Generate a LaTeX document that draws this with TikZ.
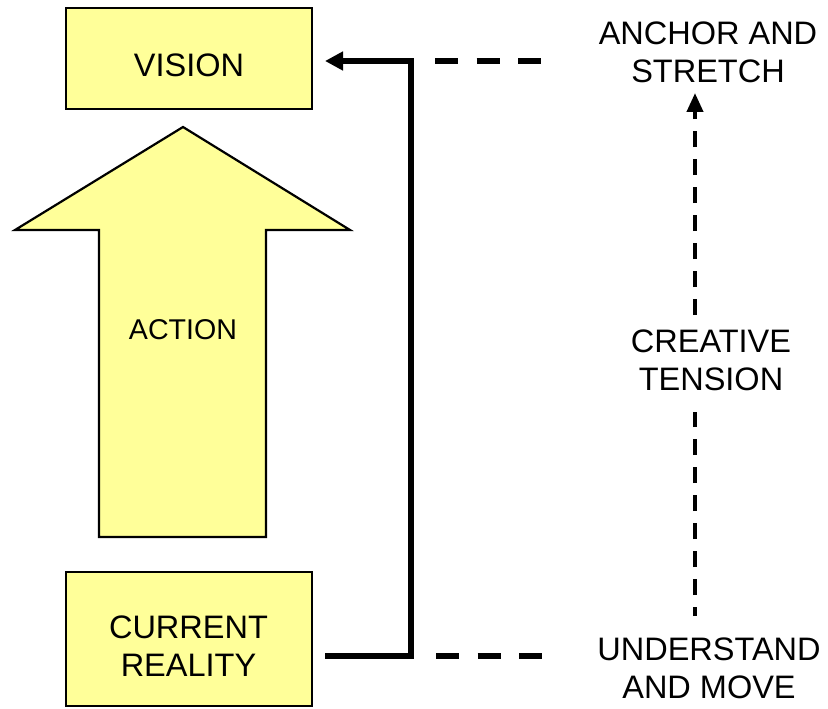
\documentclass[tikz,border=0pt]{standalone}
\usepackage{fontspec}
\setmainfont{Liberation Sans}
\usetikzlibrary{arrows.meta}
\definecolor{boxyellow}{HTML}{FFFF99}
\begin{document}
\begin{tikzpicture}[x=1pt,y=-1pt,
  box/.style={draw=black, line width=2.2pt, fill=boxyellow, inner sep=0pt},
  lbl/.style={font=\fontsize{32.5}{38}\selectfont, align=center, inner sep=0pt},
  small/.style={font=\fontsize{28.6}{33}\selectfont, align=center, inner sep=0pt},
  conn/.style={line width=5.5pt, line join=miter},
  hdash/.style={line width=6pt, dash pattern=on 23pt off 18.5pt},
  vdash/.style={line width=4pt, dash pattern=on 16pt off 12pt}]
\useasboundingbox (0,0) rectangle (828,709);
% boxes
\node[box, minimum width=246pt, minimum height=101pt] (vision) at (189,58.5) {};
\node[box, minimum width=246pt, minimum height=134pt] (current) at (189,639) {};
\node[lbl] (visiontxt) at (189,65.3) {VISION};
\node[lbl] (currenttxt) at (188.5,646.3) {CURRENT\\REALITY};
% big arrow
\draw[line width=2.2pt, line join=miter, fill=boxyellow]
  (183,127) -- (350,230) -- (266,230) -- (266,537) -- (99,537) -- (99,230) -- (15,230) -- cycle;
\node[small] (action) at (183,329.8) {ACTION};
% right labels
\node[lbl] (anchor) at (708,52.8) {ANCHOR AND\\STRETCH};
\node[lbl] (tension) at (711,360.8) {CREATIVE\\TENSION};
\node[lbl] (understand) at (709,668.3) {UNDERSTAND\\AND MOVE};
% connector
\coordinate (crout) at (325,656);
\coordinate (b1) at (411,656);
\coordinate (b2) at (411,61);
\coordinate (visin) at (325,61);
\draw[conn, -{Triangle[length=18pt,width=18pt]}] (crout) -- (b1) -- (b2) -- (visin);
% horizontal dashes
\coordinate (d1a) at (435,61);
\coordinate (d1b) at (541,61);
\coordinate (d2a) at (436,656);
\coordinate (d2b) at (544,656);
\draw[hdash] (d1a) -- (d1b);
\draw[hdash] (d2a) -- (d2b);
% vertical dashed
\coordinate (v1) at (695,616);
\coordinate (v2) at (695,412);
\coordinate (v3) at (695,315);
\coordinate (v4) at (695,93);
\draw[vdash, dash phase=7pt] (v1) -- (v2);
\draw[vdash, -{Triangle[length=19pt,width=16pt]}] (v3) -- (v4);
\end{tikzpicture}
\end{document}
